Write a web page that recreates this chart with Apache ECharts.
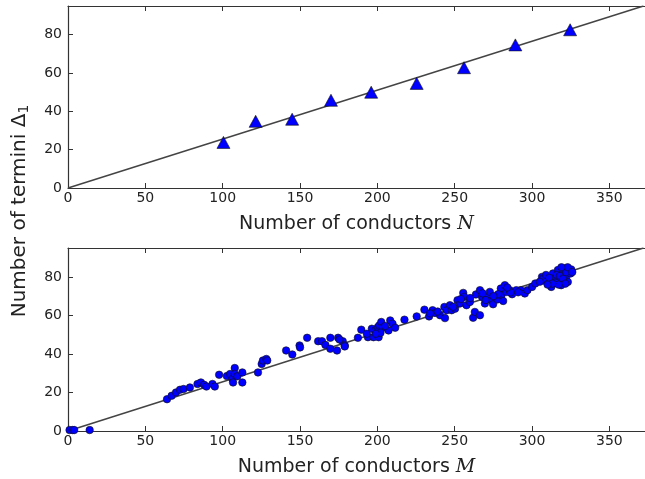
<!DOCTYPE html>
<html>
<head>
<meta charset="utf-8">
<script src="https://cdn.jsdelivr.net/npm/echarts@6/dist/echarts.min.js"></script>
<style>
  html, body { margin: 0; padding: 0; background: #fff; }
  #main { width: 645px; height: 479px; }
</style>
</head>
<body>
<div id="main"></div>
<script>
// top panel: conductors N vs termini
var topN = [100.5, 121.3, 144.9, 170, 196, 225.4, 256, 289.2, 324.6];
var topDelta = [23.8, 34.8, 35.9, 45.8, 50, 54.6, 62.8, 74.7, 82.6];

// bottom panel: conductors M vs termini
var bottomM = [
  1, 3, 4, 14,
  64, 67, 69.8, 72.4, 74.7, 78.8, 83.7, 85.9, 88, 89.5, 93.4, 94.9, 97.7, 102.7, 104.8, 106.3,
  106.7, 107.8, 107.8, 109.5, 112.7, 112.7, 122.8, 125.2, 126, 128.2, 128.8, 141, 145, 149.7, 150,
  154.6, 161.7, 164.2, 166.4, 169.6, 169.6, 173.9, 174.6, 177.6, 178.9, 175.5, 178.9, 187.4,
  189.6, 193.9, 193.2, 196.4, 197.5, 198.6, 200.3, 200.8, 201.2, 202.5, 203.5, 207.2, 208.3, 209.8,
  211.5, 217.5, 225.4, 230.4, 233.4, 235.7, 237.3, 240.5, 243.3, 243.7, 244.8, 246.9, 248, 250.2,
  251.8, 253.4, 255.5, 256.2, 257.6, 259.8, 261.9, 263, 263.7, 266.3, 266.3, 267.7, 269.5, 271.6,
  272.7, 273.7, 274.8, 277.6, 279.8, 280.2, 281.3, 282.4, 283.4, 285.6, 287.1, 289.8, 292.7, 295.3,
  297, 300, 302.1, 306.4, 308.1, 310.3, 312.4, 313.5, 314.6, 316.7, 317.8, 318.8, 319.9, 321, 322,
  323.1, 324.2, 324.9, 325.3,
  307, 309, 311, 315, 316, 318, 320, 320, 322, 323, 321.5, 317, 313, 326, 319, 310, 305, 286, 284,
  291, 278, 275, 270, 268, 260, 254, 249, 239, 234, 202, 205, 199
];
var bottomDelta = [
  0.5, 0.5, 0.5, 0.5,
  16.5, 18.3, 20, 21.4, 21.8, 22.6, 24.4, 25.2, 24, 23.1, 24.4, 23.1, 29.2, 28.5, 29.6, 27,
  25.2, 32.7, 29.6, 28.4, 30.4, 25.2, 30.4, 34.8, 36.6, 37.4, 36.6, 41.8, 39.7, 44.4, 43.4,
  48.4, 46.6, 46.6, 44.7, 48.4, 42.7, 41.8, 48.4, 46.6, 44.4, 47.5, 43.9, 48.4,
  52.6, 48.7, 50.5, 53.1, 48.7, 52.2, 53.9, 48.7, 54.8, 56.6, 53.6, 52.2, 57.4, 55.7,
  53.6, 57.8, 59.5, 63, 59.5, 62.7, 61.3, 60.1, 64.4, 58.6, 62.7, 65.3, 62.7, 63.5,
  67.9, 66.2, 71.7, 69.6, 65.3, 67, 58.8, 61.8, 70.9, 73.1, 60.1, 69.6, 66.2, 69.6,
  72.2, 67.9, 65.8, 68.3, 74, 70.5, 67.5, 75.7, 72.2, 73.1, 71, 73.1, 73.1, 71.4,
  73.1, 74.8, 76.6, 80, 78, 77.4, 74.8, 81.8, 79.2, 83.6, 78.3, 75.7, 81.8, 84.4, 80,
  77.4, 83.2, 81.8, 83.9,
  79, 81, 79.5, 77, 81, 80.5, 84, 79, 82.5, 85, 76.5, 76, 76.5, 82.5, 85, 76, 77.5, 72, 74.5,
  72, 71, 70, 68, 71.5, 69, 68.5, 64.5, 62, 61, 51, 54.5, 50.5
];

// fitted line through the origin (end points)
var fitX = [0, 372];
var fitY = [0, 95];

function pairs(xs, ys) {
  var out = [];
  for (var i = 0; i < xs.length; i++) out.push([xs[i], ys[i]]);
  return out;
}

var chartDom = document.getElementById('main');
var myChart = echarts.init(chartDom, null, { renderer: 'canvas' });

var font = 'DejaVu Sans';
var spine = { show: true, onZero: false, lineStyle: { color: '#333', width: 1.2 } };
var inTick = { show: true, inside: true, length: 5, lineStyle: { color: '#333', width: 1 } };

function xBottom(grid, letter) {
  return {
    type: 'value', gridIndex: grid, min: 0, max: 373, interval: 50, position: 'bottom',
    axisLine: spine, axisTick: inTick, splitLine: { show: false },
    axisLabel: { color: '#222', fontSize: 14, fontFamily: font, margin: 3,
      showMaxLabel: false,
      formatter: function (v) { return v <= 350 ? String(v) : ''; } },
    name: 'Number of conductors {i|' + letter + '}',
    nameLocation: 'middle', nameGap: 27,
    nameTextStyle: { color: '#222', fontSize: 19, fontFamily: font,
      rich: { i: { fontSize: 19, fontFamily: 'DejaVu Serif', fontStyle: 'italic', color: '#222' } } }
  };
}
function xTop(grid) {
  return {
    type: 'value', gridIndex: grid, min: 0, max: 373, interval: 50, position: 'top',
    axisLine: spine, axisTick: inTick, axisLabel: { show: false }, splitLine: { show: false }
  };
}
function yLeft(grid) {
  return {
    type: 'value', gridIndex: grid, min: 0, max: 95, interval: 20,
    axisLine: spine, axisTick: inTick, splitLine: { show: false },
    axisLabel: { color: '#222', fontSize: 14, fontFamily: font, margin: 6,
      showMaxLabel: false,
      formatter: function (v) { return v % 20 === 0 ? String(v) : ''; } }
  };
}

var option = {
  animation: false,
  backgroundColor: '#fff',
  grid: [
    { left: 68, right: -2, top: 6, height: 182 },
    { left: 68, right: -2, top: 248, height: 183 }
  ],
  xAxis: [xBottom(0, 'N'), xTop(0), xBottom(1, 'M'), xTop(1)],
  yAxis: [yLeft(0), yLeft(1)],
  graphic: [{
    type: 'text', x: 20, y: 211, rotation: Math.PI / 2,
    style: {
      text: 'Number of termini {d|Δ}{s|1}',
      fill: '#222', font: '20px "DejaVu Sans"', align: 'center', verticalAlign: 'middle',
      rich: {
        d: { fontSize: 20, fontFamily: 'DejaVu Sans', fill: '#222' },
        s: { fontSize: 14, fontFamily: 'DejaVu Sans', fill: '#222', padding: [9, 0, 0, 0] }
      }
    }
  }],
  series: [
    {
      type: 'line', xAxisIndex: 0, yAxisIndex: 0, data: pairs(fitX, fitY),
      symbol: 'none', lineStyle: { color: '#444', width: 1.5 }, silent: true, z: 1
    },
    {
      type: 'scatter', xAxisIndex: 0, yAxisIndex: 0, data: pairs(topN, topDelta),
      symbol: 'triangle', symbolSize: [13, 12],
      itemStyle: { color: '#0000ff', borderColor: '#111', borderWidth: 0.6, opacity: 1 }, z: 3
    },
    {
      type: 'line', xAxisIndex: 2, yAxisIndex: 1, data: pairs(fitX, fitY),
      symbol: 'none', lineStyle: { color: '#444', width: 1.5 }, silent: true, z: 1
    },
    {
      type: 'scatter', xAxisIndex: 2, yAxisIndex: 1, data: pairs(bottomM, bottomDelta),
      symbol: 'circle', symbolSize: 7.5,
      itemStyle: { color: '#0000ff', borderColor: '#111', borderWidth: 0.6, opacity: 1 }, z: 3
    }
  ]
};

myChart.setOption(option);
window.addEventListener('resize', myChart.resize);
</script>
</body>
</html>
